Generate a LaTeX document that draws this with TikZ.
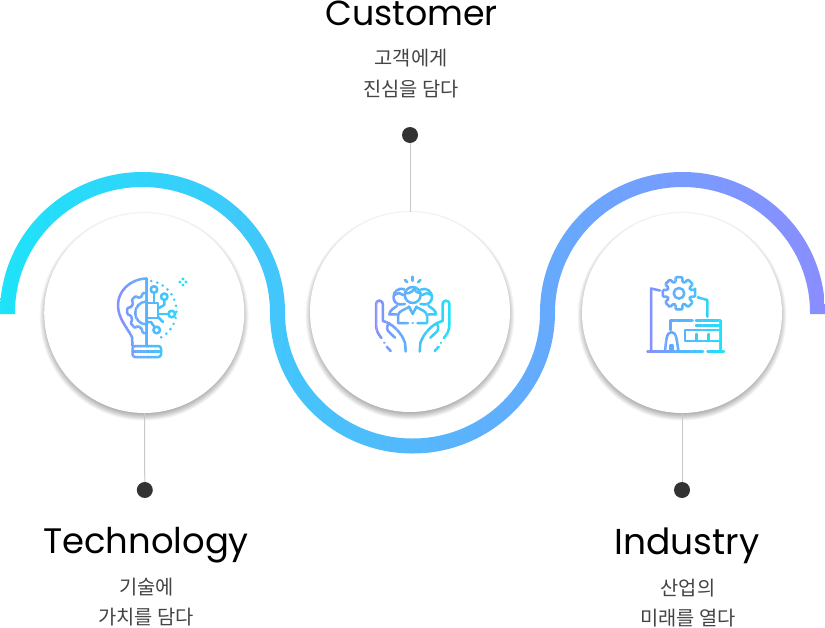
\documentclass[tikz,border=0pt]{standalone}
\usepackage{fontspec}
\setmainfont{Poppins}
\newfontfamily\krfont{Noto Sans CJK KR}
\definecolor{ribL}{RGB}{30,227,249}
\definecolor{ribR}{RGB}{138,141,255}
\definecolor{iconL}{RGB}{138,141,255}
\definecolor{iconR}{RGB}{30,227,249}
\definecolor{dotc}{RGB}{51,51,51}
\definecolor{stemc}{RGB}{200,200,200}
\definecolor{krc}{RGB}{68,68,68}
\colorlet{slicecol}{iconL}
\tikzset{
  bigdisc/.style={circle,fill=white,minimum size=200pt,inner sep=0pt},
  pin/.style={circle,fill=dotc,minimum size=16pt,inner sep=0pt},
  stem/.style={draw=stemc,line width=1pt},
  ic/.style={draw=slicecol,line width=2.5pt,line cap=round,line join=round},
  dotty/.style={draw=slicecol,line width=2.8pt,line cap=round,dash pattern=on 0pt off 6.2pt},
  titletxt/.style={anchor=base,inner sep=0pt,text=black},
  krtxt/.style={anchor=base,inner sep=0pt,text=krc,font=\krfont\fontsize{19.8}{19.8}\selectfont},
}
% colour-sliced stroke gradient: x from, x to, drawing
\newcommand\gradicon[3]{%
  \foreach \slc in {0,...,23}{%
    \pgfmathsetmacro\xa{#1+(#2-#1)*\slc/24}%
    \pgfmathsetmacro\xb{\xa+(#2-#1)/24+0.3}%
    \pgfmathsetmacro\pc{100*\slc/23}%
    \colorlet{slicecol}{iconR!\pc!iconL}%
    \begin{scope}
      \clip (\xa,260) rectangle (\xb,372);
      #3
    \end{scope}
  }%
}
\newcommand\softshadow[2]{%
  \foreach \rr in {104.5,103.6,102.8,102,101.2,100.4,99.6,98.8,98,97.2}{%
    \fill[black,opacity=.036] (#1,#2+3.2) circle (\rr);
  }%
}
\newcommand\bulbicon{%
  \draw[ic] (146.7,278.5) -- (146.7,346);
  \draw[ic] (146.7,278.5) .. controls (130,279) and (118,291) .. (118,305)
     .. controls (118,318) and (126,326) .. (132,337) -- (132.5,346);
  \draw[ic,rounded corners=2.6pt] (132.5,346) rectangle (161,357);
  \draw[ic] (132.5,351.5) -- (161,351.5);
  \begin{scope}[shift={(146.7,313)}]
    \draw[ic] (0,-11.5) arc[start angle=270,end angle=90,radius=11.5pt];
    \draw[ic,rounded corners=1pt] (0,-20) -- (-4,-20) -- (-5,-16.5) -- (-8,-15) -- (-11,-17) -- (-15,-13)
      -- (-13.5,-9.5) -- (-15.5,-6) -- (-19.5,-5) -- (-19.5,1) -- (-15.5,3) -- (-14.5,7)
      -- (-16,10) -- (-12,15) -- (-9,13) -- (-5,15.5) -- (-4,20) -- (0,20);
  \end{scope}
  \draw[ic] (146.7,303) -- (158,303) -- (158,318) -- (146.7,318);
  \draw[ic] (154,293) -- (154,303);
  \draw[ic] (154,289.5) circle (3.3);
  \draw[ic] (164.3,300) -- (164.3,305) -- (158,308.5);
  \draw[ic] (164.3,296.7) circle (3.2);
  \draw[ic] (158,314) -- (168.3,314);
  \draw[ic] (171.7,314) circle (3.3);
  \draw[ic] (158,317) -- (163,322);
  \draw[ic] (146.7,322) -- (151,322) -- (154.5,327);
  \draw[ic] (156.7,330) circle (3.3);
  \draw[dotty] (146,311) ++(-80:30.5) arc[start angle=-80,end angle=65,radius=30.5pt];
  \foreach \dx/\dy in {0/-3,0/3,-3/0,3/0}{
    \fill[slicecol] (183+\dx,282+\dy) circle (1.6);
  }
}
\newcommand\handshape{%
  \draw[ic] (381.5,338) .. controls (378,334) and (376,330) .. (376,324) -- (376,304)
     arc[start angle=180,end angle=360,radius=3.4pt] -- (382.8,321)
     .. controls (392,323) and (402,333) .. (405,343) -- (405.7,351.5);
  \draw[ic] (395,337.7) -- (388,331) .. controls (386.5,328) and (387,325) .. (389,323);
  \draw[ic] (384.3,342.7) -- (384.4,342.8);
  \draw[ic] (386.7,346.7) -- (390.7,351);
}
\newcommand\peopleicon{%
  \handshape
  \begin{scope}[shift={(825.4,0)},xscale=-1]\handshape\end{scope}
  \draw[ic] (412.7,295) circle (8);
  \draw[ic] (404.8,293) .. controls (409,294) and (412,292) .. (414,289) .. controls (415,292) and (418,293) .. (420.6,293);
  \draw[ic] (404.5,289.5) .. controls (398,287) and (393.5,292) .. (393.5,297) .. controls (393.5,301) and (396,304) .. (400,304.5) -- (405,304);
  \draw[ic] (421,289.5) .. controls (427,287) and (432,292) .. (432,297) .. controls (432,301) and (429,304) .. (425.5,304.5) -- (420.5,304);
  \draw[ic] (394,295) -- (399,293) -- (403,295);
  \draw[ic] (422.5,295) -- (427,293) -- (431.5,295);
  \draw[ic] (405,280) -- (407.3,282.3);
  \draw[ic] (412.7,276.7) -- (412.7,280.7);
  \draw[ic] (420.4,280) -- (418.1,282.3);
  \draw[ic] (408,323) -- (398,323) -- (398,316) .. controls (398,311) and (404,310) .. (409,307);
  \draw[ic] (417.5,323) -- (427,323) -- (427,316) .. controls (427,311) and (421,310) .. (416.5,307);
  \draw[ic] (412.7,323) -- (412.8,323);
  \draw[ic] (409,306.5) -- (412.7,314) -- (416.5,306.5);
  \draw[ic] (397,314.3) -- (389.3,314.3) .. controls (390,310) and (394,308) .. (397,306);
  \draw[ic] (428.5,314.3) -- (436.3,314.3) .. controls (435.5,310) and (431.5,308) .. (428.5,306);
}
\newcommand\facticon{%
  \draw[ic] (660,290.5) -- (651,288.5) -- (651,351.7);
  \draw[ic] (647.5,351.7) -- (703,351.7);
  \draw[ic] (707.5,351.7) -- (724,351.7);
  \begin{scope}[shift={(679,293.3)}]
    \draw[ic,rounded corners=1.1pt] (-12:16.5)
      \foreach \ang in {0,45,...,315}{
        -- (\ang-12:16.5) -- (\ang+12:16.5) -- (\ang+17:11.8) -- (\ang+28:11.8)
      } -- cycle;
    \draw[ic] (0,0) circle (5.3);
  \end{scope}
  \draw[ic] (697.7,297.3) -- (707.3,300) -- (707.3,316.7);
  \draw[ic] (670.7,330) -- (670.7,320.7) -- (692.7,320.7);
  \draw[ic] (696,320.7) -- (720.7,320.7) -- (720.7,351.7);
  \draw[ic] (696,325.7) -- (720.7,325.7);
  \draw[ic] (720.7,330) -- (685,330) -- (685,341) -- (720.7,341);
  \draw[ic] (696.7,334) -- (696.7,341);
  \draw[ic] (708.3,334) -- (708.3,341);
  \draw[ic] (665,351.7) .. controls (666,343) and (666,332) .. (671.5,332) .. controls (677,332) and (677,343) .. (678.5,351.7);
  \draw[ic] (670.7,351.7) -- (670.7,345) -- (672.5,345) -- (672.5,351.7);
}
\begin{document}
\begin{tikzpicture}[x=1pt,y=1pt,yscale=-1]
\useasboundingbox (0,0) rectangle (825,627);
\clip (0,0) rectangle (825,627);
\fill[white] (0,0) rectangle (825,627);
% ribbon
\shade[left color=ribL,right color=ribR]
  (0,314) -- (0,312.5)
  arc[start angle=180,end angle=360,x radius=142.5pt,y radius=140.5pt]
  arc[start angle=180,end angle=0,x radius=127.5pt,y radius=126pt]
  arc[start angle=180,end angle=360,x radius=142.5pt,y radius=140.5pt]
  -- (825,314) -- (810,314) -- (810,312.5)
  arc[start angle=360,end angle=180,x radius=127.5pt,y radius=125.5pt]
  arc[start angle=0,end angle=180,x radius=142.5pt,y radius=141pt]
  arc[start angle=360,end angle=180,x radius=127.5pt,y radius=125.5pt]
  -- (15,314) -- cycle;
% discs
\softshadow{144.2}{313}
\softshadow{410}{312}
\softshadow{682}{313}
\node[bigdisc] (discT) at (144.2,313) {};
\node[bigdisc] (discC) at (410,312) {};
\node[bigdisc] (discI) at (682,313) {};
% pins
\node[pin] (pinT) at (144.8,490) {};
\node[pin] (pinC) at (410,135) {};
\node[pin] (pinI) at (682,490) {};
\draw[stem] (discT) -- (pinT);
\draw[stem] (discC) -- (pinC);
\draw[stem] (discI) -- (pinI);
% icons
\gradicon{115}{188}{\bulbicon}
\gradicon{373}{453}{\peopleicon}
\gradicon{645}{726}{\facticon}
% text
\node[titletxt,font=\fontsize{34.8}{35}\selectfont] (tC) at (411.5,25) {Customer};
\node[krtxt] (c1) at (411,65.5) {고객에게};
\node[krtxt] (c2) at (411,96) {진심을 담다};
\node[titletxt,font=\fontsize{35.4}{36}\selectfont] (tT) at (146,553) {Technology};
\node[krtxt] (t1) at (146.5,594) {기술에};
\node[krtxt] (t2) at (146,624) {가치를 담다};
\node[titletxt,font=\fontsize{36}{36}\selectfont] (tI) at (687,554) {Industry};
\node[krtxt] (i1) at (688,595) {산업의};
\node[krtxt] (i2) at (688,625) {미래를 열다};
\end{tikzpicture}
\end{document}
